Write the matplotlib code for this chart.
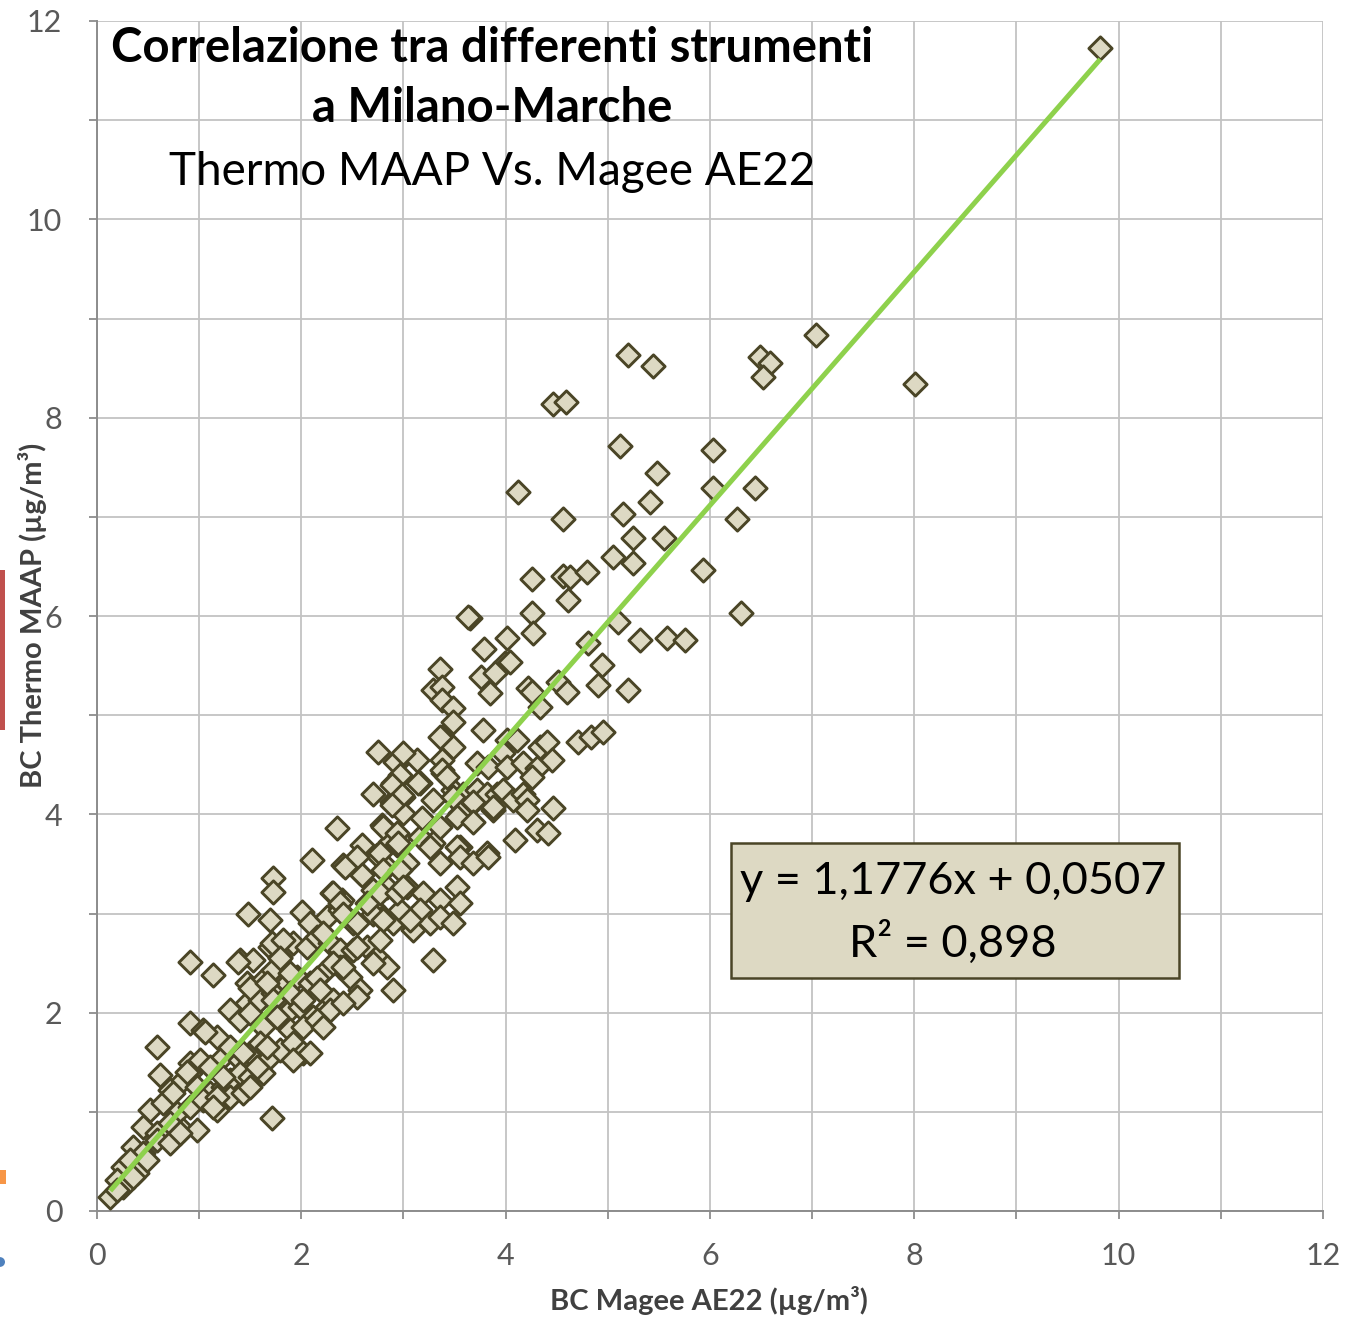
import numpy as np
import matplotlib
matplotlib.use('Agg')
import matplotlib.pyplot as plt
from matplotlib.patches import Rectangle, Circle


# ── data : BC Magee AE22 (x) vs BC Thermo MAAP (y), µg/m³ ────────────────────
x_magee = [
    9.82, 7.04, 8.01, 5.20, 5.44, 6.49, 6.59, 6.52, 4.46, 4.59, 5.12, 5.48, 5.41, 4.12, 4.56,
    6.03, 6.03, 6.44, 6.26, 5.93, 6.30, 5.15, 5.25, 5.55, 5.05, 5.25, 4.26, 4.56, 4.63, 4.80,
    4.61, 4.26, 4.27, 4.01, 3.99, 4.04, 5.10, 4.81, 5.31, 5.58, 5.76, 4.94, 3.65, 3.63, 3.79,
    3.36, 3.76, 3.90, 3.29, 3.38, 3.38, 3.48, 3.48, 3.85, 4.22, 4.26, 4.34, 4.51, 4.60, 4.90,
    5.20, 3.38, 3.48, 3.78, 4.01, 4.11, 4.34, 4.40, 4.45, 4.71, 4.84, 4.95, 3.00, 3.13, 3.38,
    3.39, 3.72, 3.83, 3.97, 4.01, 4.17, 4.31, 4.26, 2.97, 3.16, 3.29, 3.48, 3.58, 3.72, 3.82,
    3.92, 3.97, 4.07, 4.17, 4.21, 4.21, 4.46, 3.55, 3.68, 3.88, 4.09, 4.31, 4.41, 2.97, 3.16,
    3.29, 3.55, 3.82, 2.75, 2.92, 3.00, 3.36, 2.90, 2.97, 3.14, 3.38, 3.43, 2.70, 2.89, 3.00,
    3.48, 3.68, 3.88, 2.79, 3.00, 3.18, 3.36, 3.52, 3.68, 2.35, 2.59, 2.74, 2.87, 2.94, 2.10,
    2.41, 2.57, 2.84, 3.03, 3.26, 3.36, 3.52, 3.55, 3.68, 3.83, 1.72, 1.72, 2.30, 2.40, 2.70,
    2.84, 3.03, 3.19, 3.36, 3.52, 3.55, 1.48, 1.69, 2.01, 2.08, 2.25, 2.38, 2.51, 2.70, 2.80,
    2.90, 3.03, 3.16, 3.26, 3.36, 3.48, 3.09, 3.29, 1.40, 1.53, 1.69, 1.79, 1.92, 2.06, 2.15,
    2.28, 2.38, 2.51, 2.64, 2.74, 2.84, 1.47, 1.62, 1.72, 1.86, 1.96, 2.08, 2.21, 2.38, 2.48,
    2.57, 2.70, 2.90, 1.47, 1.60, 1.72, 1.86, 1.99, 2.11, 2.25, 2.31, 2.54, 0.91, 1.14, 1.38,
    1.71, 1.82, 2.21, 2.54, 2.70, 2.80, 2.97, 3.06, 1.79, 1.89, 2.15, 2.31, 2.41, 2.54, 2.77,
    1.50, 1.66, 1.72, 1.89, 2.02, 2.18, 2.28, 2.41, 0.91, 1.04, 1.17, 1.30, 1.40, 1.50, 1.62,
    1.76, 1.89, 2.02, 2.15, 2.21, 0.59, 0.62, 0.91, 1.01, 1.11, 1.23, 1.30, 1.40, 1.50, 1.60,
    1.69, 1.79, 1.92, 2.02, 2.08, 0.71, 0.84, 0.91, 0.98, 1.11, 1.23, 1.30, 1.40, 1.50, 1.62,
    0.52, 0.65, 0.78, 0.91, 1.04, 1.17, 1.30, 1.43, 1.71, 0.45, 0.59, 0.71, 0.84, 0.98, 0.35,
    0.45, 0.59, 0.71, 0.25, 0.32, 0.39, 0.49, 0.20, 0.25, 0.35, 0.13, 0.20, 2.89, 2.99, 2.89,
    2.80, 2.94, 2.95, 2.54, 2.43, 2.59, 2.77, 2.80, 2.97, 2.31, 2.38, 2.41, 2.64, 2.77, 2.94,
    3.00, 1.06, 0.88, 0.74, 1.43, 1.23, 1.17, 0.81, 1.57, 1.66, 1.92, 1.50, 1.14,
]
y_maap = [
    11.73, 8.83, 8.34, 8.63, 8.52, 8.61, 8.55, 8.41, 8.14, 8.16, 7.71, 7.44, 7.15, 7.25, 6.98,
    7.67, 7.29, 7.29, 6.98, 6.46, 6.03, 7.03, 6.79, 6.79, 6.59, 6.53, 6.37, 6.40, 6.39, 6.44,
    6.16, 6.03, 5.83, 5.78, 5.53, 5.54, 5.94, 5.73, 5.76, 5.78, 5.76, 5.51, 5.98, 5.99, 5.67,
    5.47, 5.38, 5.43, 5.25, 5.28, 5.15, 5.07, 4.93, 5.22, 5.27, 5.23, 5.08, 5.33, 5.23, 5.30,
    5.25, 4.78, 4.68, 4.85, 4.75, 4.75, 4.68, 4.73, 4.55, 4.73, 4.78, 4.83, 4.58, 4.55, 4.55,
    4.42, 4.52, 4.48, 4.62, 4.48, 4.52, 4.47, 4.38, 4.38, 4.32, 4.14, 4.25, 4.21, 4.25, 4.21,
    4.21, 4.25, 4.14, 4.21, 4.14, 4.04, 4.06, 4.01, 4.11, 4.04, 3.74, 3.84, 3.81, 3.77, 3.77,
    3.71, 3.67, 3.61, 4.63, 4.53, 4.62, 4.78, 4.32, 4.40, 4.32, 4.45, 4.38, 4.21, 4.12, 4.17,
    4.17, 4.12, 4.07, 3.89, 4.01, 3.96, 3.87, 3.97, 3.92, 3.86, 3.69, 3.59, 3.72, 3.69, 3.54,
    3.49, 3.41, 3.47, 3.51, 3.67, 3.51, 3.67, 3.57, 3.51, 3.57, 3.36, 3.22, 3.21, 3.14, 3.24,
    3.27, 3.27, 3.21, 3.14, 3.27, 3.11, 3.00, 2.93, 3.02, 2.90, 2.96, 3.04, 2.90, 3.07, 2.96,
    2.90, 2.96, 3.04, 2.90, 2.96, 2.90, 2.83, 2.53, 2.53, 2.53, 2.66, 2.56, 2.70, 2.66, 2.76,
    2.70, 2.63, 2.63, 2.66, 2.56, 2.46, 2.30, 2.33, 2.43, 2.30, 2.36, 2.30, 2.40, 2.46, 2.36,
    2.23, 2.50, 2.23, 2.10, 2.13, 2.20, 2.00, 2.06, 1.96, 2.06, 2.13, 2.16, 2.51, 2.38, 2.51,
    2.70, 2.73, 2.80, 2.90, 3.00, 2.93, 3.04, 2.93, 2.55, 2.40, 2.35, 2.50, 2.46, 2.66, 2.73,
    2.25, 2.30, 2.13, 2.20, 2.13, 2.23, 2.03, 2.10, 1.90, 1.83, 1.75, 2.03, 1.93, 2.00, 1.86,
    1.96, 1.83, 1.86, 1.93, 1.86, 1.65, 1.37, 1.49, 1.52, 1.45, 1.55, 1.65, 1.52, 1.59, 1.69,
    1.55, 1.62, 1.69, 1.59, 1.59, 1.22, 1.32, 1.39, 1.25, 1.19, 1.25, 1.32, 1.39, 1.35, 1.39,
    1.02, 1.09, 0.99, 1.05, 1.12, 1.02, 1.15, 1.19, 0.94, 0.85, 0.79, 0.89, 0.82, 0.82, 0.65,
    0.58, 0.72, 0.69, 0.44, 0.51, 0.38, 0.51, 0.31, 0.24, 0.34, 0.14, 0.21, 4.30, 4.19, 4.09,
    3.87, 3.81, 3.71, 3.57, 3.47, 3.39, 3.61, 3.44, 3.44, 3.21, 3.11, 3.00, 3.11, 3.21, 3.21,
    3.27, 1.81, 1.40, 1.19, 1.59, 1.35, 1.15, 0.79, 1.45, 1.65, 1.52, 1.25, 1.05,
]

# linear trend line (Excel)
slope     = 1.1776
intercept = 0.0507
r2_label  = '0,898'

x_ticks = [0, 2, 4, 6, 8, 10, 12]
y_ticks = [0, 2, 4, 6, 8, 10, 12]

FONT = ['Lato', 'DejaVu Sans']
plt.rcParams['font.family'] = FONT

TICK_COL = '#595959'
GRID_COL = '#C3C3C3'
AXIS_COL = '#8C8C8C'
FILL_COL = '#DDD9C3'
EDGE_COL = '#4A4526'
LINE_COL = '#8ED14C'

fig = plt.figure(figsize=(13.45, 13.19), dpi=100)
ax = fig.add_axes([97 / 1345, 1 - 1211 / 1319, 1226 / 1345, 1190 / 1319])

# ── axes / grid ──────────────────────────────────────────────────────────────
ax.set_xlim(0, 12)
ax.set_ylim(0, 12)
ax.set_xticks(x_ticks)
ax.set_yticks(y_ticks)
ax.set_xticks(np.arange(1, 12, 2), minor=True)
ax.set_yticks(np.arange(1, 12, 2), minor=True)
ax.grid(True, which='both', color=GRID_COL, lw=1.3, zorder=0)
ax.set_axisbelow(True)

for side in ('top', 'right'):
    ax.spines[side].set_visible(False)
for side in ('left', 'bottom'):
    ax.spines[side].set_color(AXIS_COL)
    ax.spines[side].set_linewidth(1.4)

ax.tick_params(which='both', direction='out', length=6, width=1.3, color=AXIS_COL,
               labelcolor=TICK_COL, labelsize=22)
ax.tick_params(axis='y', pad=19)
ax.tick_params(axis='x', pad=16)

# ── scatter + trend ──────────────────────────────────────────────────────────
ax.scatter(x_magee, y_maap, marker='D', s=140, facecolor=FILL_COL, edgecolor=EDGE_COL,
           linewidths=2.1, zorder=3, clip_on=False)

xs = np.array([min(x_magee), max(x_magee)])
ax.plot(xs, slope * xs + intercept, color=LINE_COL, lw=3.6, zorder=4, solid_capstyle='butt')

# ── labels ───────────────────────────────────────────────────────────────────
ax.set_xlabel('BC Magee AE22 (µg/m³)', fontsize=21, fontweight='bold', color='#404040')
ax.xaxis.set_label_coords(0.4992, -0.0756)
ax.xaxis.label.set_va('center')
ax.set_ylabel('BC Thermo MAAP (µg/m³)', fontsize=21, fontweight='bold', color='#404040')
ax.yaxis.set_label_coords(-0.053, 0.5008)
ax.yaxis.label.set_va('center')

ax.text(0.3222, 0.9773, 'Correlazione tra differenti strumenti', transform=ax.transAxes,
        ha='center', va='center', fontsize=34, fontweight='bold', color='black', zorder=6)
ax.text(0.3222, 0.9269, 'a Milano-Marche', transform=ax.transAxes,
        ha='center', va='center', fontsize=34, fontweight='bold', color='black', zorder=6)
ax.text(0.3222, 0.8731, 'Thermo MAAP Vs. Magee AE22', transform=ax.transAxes,
        ha='center', va='center', fontsize=33, color='black', zorder=6)

# ── equation box ─────────────────────────────────────────────────────────────
ax.add_patch(Rectangle((0.5171, 0.1958), 0.3654, 0.1134, transform=ax.transAxes,
                       facecolor=FILL_COL, edgecolor=EDGE_COL, lw=1.8, zorder=5))
eq = f'y = {slope:.4f}x + {intercept:.4f}'.replace('.', ',')
ax.text(0.6982, 0.2765, eq, transform=ax.transAxes, ha='center', va='center',
        fontsize=32.5, color='black', zorder=6)
ax.text(0.6982, 0.2252, 'R² = ' + r2_label, transform=ax.transAxes, ha='center', va='center',
        fontsize=32.5, color='black', zorder=6)

# ── cropped slide leftovers on the left edge ─────────────────────────────────
fig.patches.append(Rectangle((0, 1 - 730 / 1319), 5 / 1345, 160 / 1319,
                             transform=fig.transFigure, facecolor='#C0504D', edgecolor='none'))
fig.patches.append(Rectangle((0, 1 - 1184 / 1319), 6 / 1345, 14 / 1319,
                             transform=fig.transFigure, facecolor='#F79646', edgecolor='none'))
fig.patches.append(Circle((0, 1 - 1262 / 1319), 5 / 1345,
                          transform=fig.transFigure, facecolor='#4F81BD', edgecolor='none'))

fig.savefig('out.png', dpi=100)
plt.close(fig)
